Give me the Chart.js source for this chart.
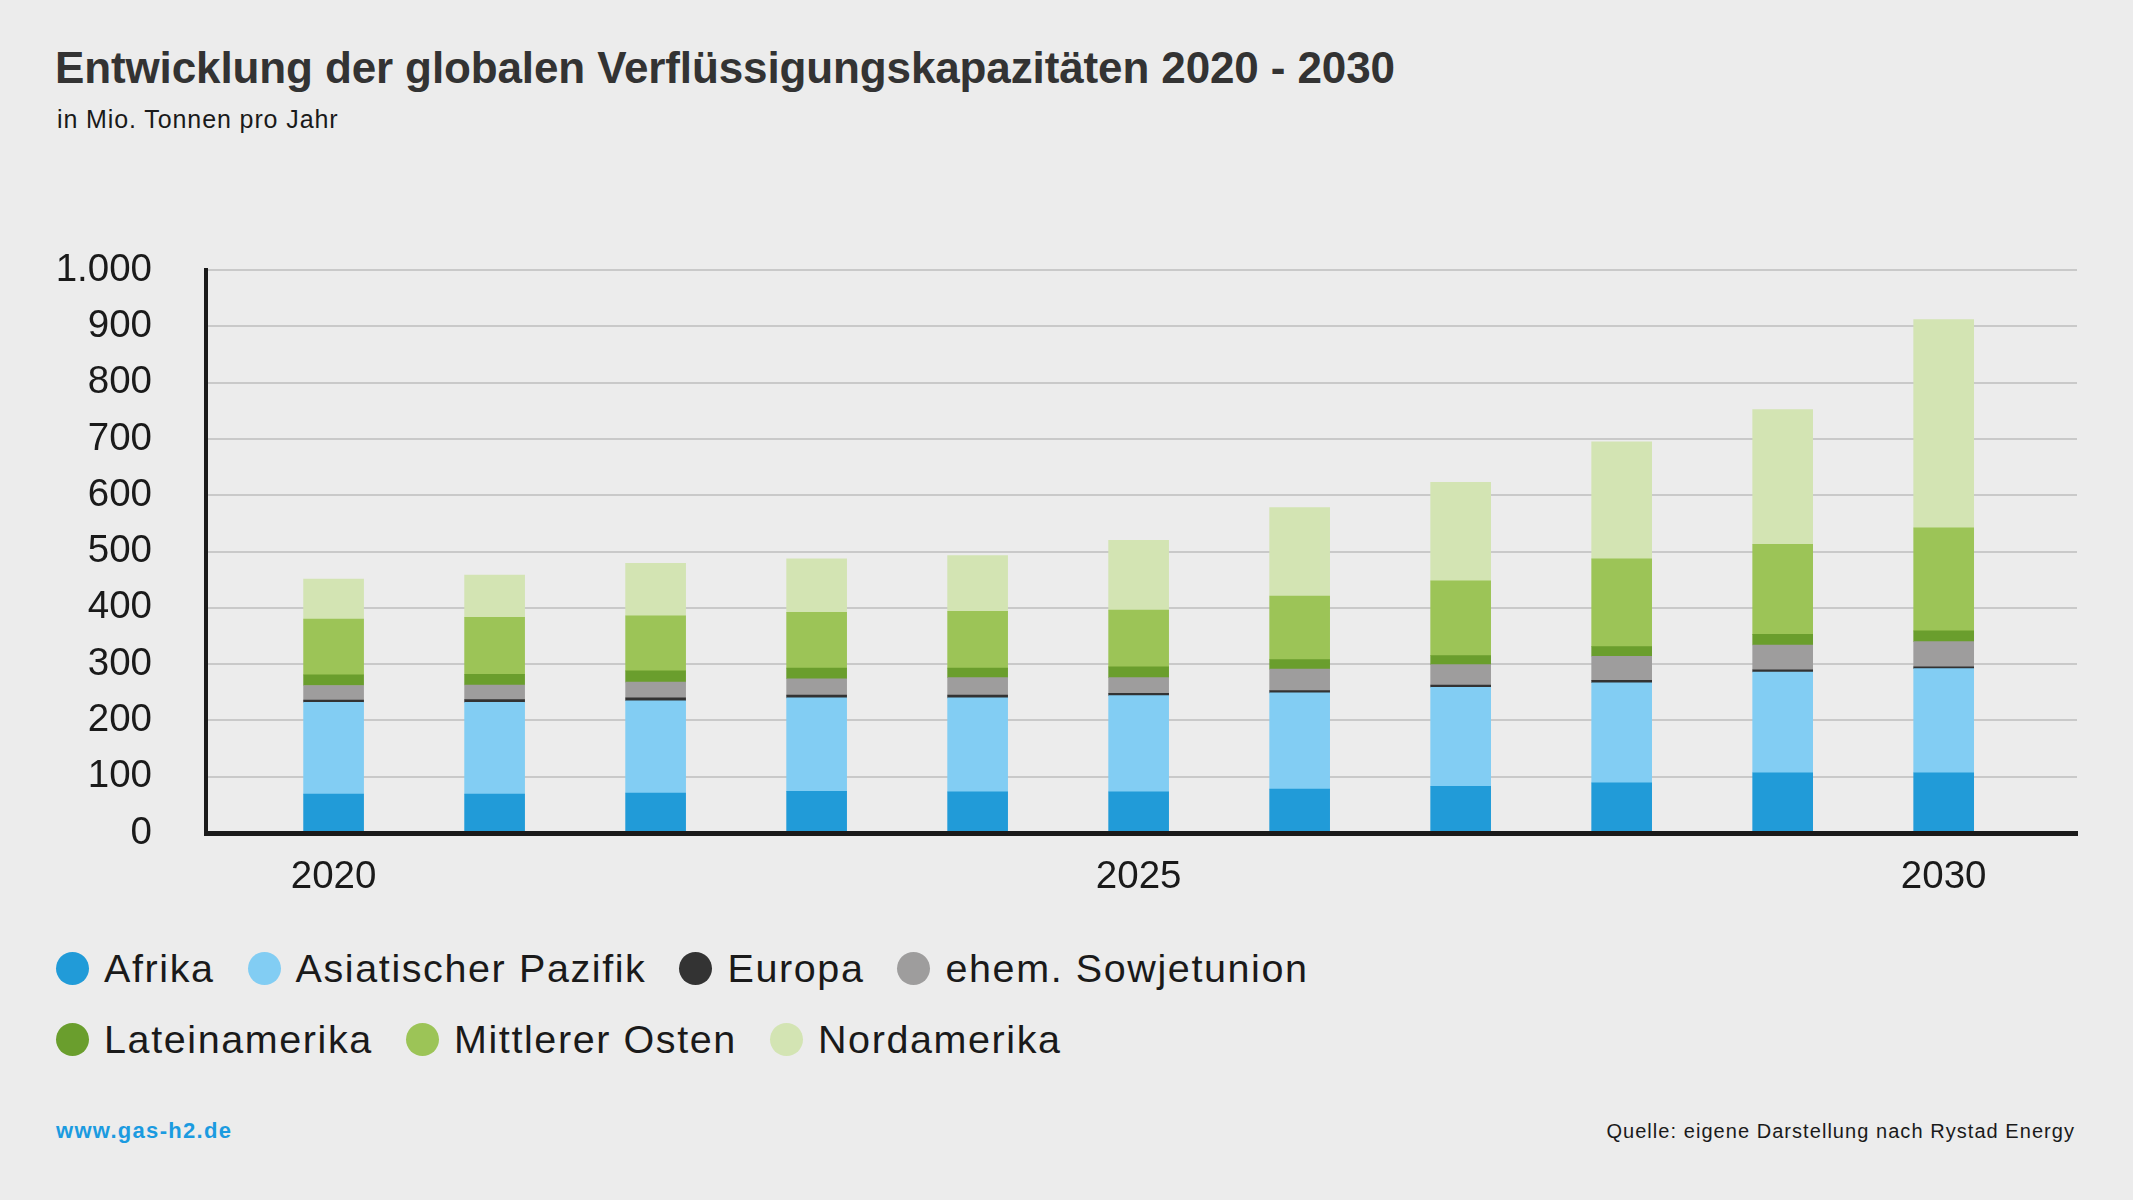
<!DOCTYPE html>
<html lang="de">
<head>
<meta charset="utf-8">
<title>Entwicklung der globalen Verflüssigungskapazitäten 2020 - 2030</title>
<script src="https://cdn.jsdelivr.net/npm/chart.js@4.4.1/dist/chart.umd.min.js"></script>
<style>
  html, body { margin: 0; padding: 0; background: #ececec; }
  body { width: 2133px; height: 1200px; position: relative; overflow: hidden; font-family: "Liberation Sans", Arial, sans-serif; color: #1a1a1a; }
  .title { position: absolute; left: 55px; top: 46px; font-size: 44px; line-height: 1; font-weight: bold; color: #333; letter-spacing: -0.12px; white-space: nowrap; }
  .subtitle { position: absolute; left: 57px; top: 107px; font-size: 25px; line-height: 1; letter-spacing: 0.9px; color: #1a1a1a; white-space: nowrap; }
  #wrap { position: absolute; left: 0; top: 193px; width: 2133px; height: 727px; }
  .legend { position: absolute; left: 56px; top: 948px; }
  .legend .row { display: flex; align-items: center; height: 40px; margin-bottom: 31px; }
  .legend .item { display: flex; align-items: center; margin-right: 33px; }
  .legend .dot { width: 33px; height: 33px; border-radius: 50%; margin-right: 15px; }
  .legend .label { font-size: 39.5px; line-height: 40px; letter-spacing: 1.6px; white-space: nowrap; color: #1a1a1a; }
  .url { position: absolute; left: 56px; top: 1120px; font-size: 22px; line-height: 1; font-weight: bold; color: #1b9be0; letter-spacing: 1.3px; }
  .source { position: absolute; right: 58px; top: 1121px; font-size: 20px; line-height: 1; color: #1a1a1a; letter-spacing: 1.05px; }
</style>
</head>
<body>
<div class="title">Entwicklung der globalen Verflüssigungskapazitäten 2020 - 2030</div>
<div class="subtitle">in Mio. Tonnen pro Jahr</div>
<div id="wrap"><canvas id="myChart"></canvas></div>
<div class="legend" id="legend"></div>
<div class="url">www.gas-h2.de</div>
<div class="source">Quelle: eigene Darstellung nach Rystad Energy</div>
<script>
// Jahre (Kategorien) und Achsenbeschriftungen
const years = [2020, 2021, 2022, 2023, 2024, 2025, 2026, 2027, 2028, 2029, 2030];
const xTickYears = [2020, 2025, 2030];

// Kapazitäten je Region, Mio. t pro Jahr
const afrika = [69, 69, 71, 74, 73, 73, 78, 83, 89, 107, 107];
const asiatischerPazifik = [163, 163, 164, 166, 167, 171, 171, 176, 178, 179, 185];
const europa = [4, 5, 5, 5, 5, 4, 4, 4, 4, 4, 3];
const sowjetunion = [26, 26, 28, 29, 31, 28, 38, 36, 43, 44, 45];
const lateinamerika = [19, 19, 20, 19, 17, 19, 17, 16, 17, 19, 19];
const mittlererOsten = [99, 101, 98, 99, 101, 101, 113, 133, 156, 160, 183];
const nordamerika = [71, 75, 93, 95, 99, 124, 157, 175, 208, 239, 370];

const seriesNames = ['Afrika', 'Asiatischer Pazifik', 'Europa', 'ehem. Sowjetunion', 'Lateinamerika', 'Mittlerer Osten', 'Nordamerika'];
const seriesValues = [afrika, asiatischerPazifik, europa, sowjetunion, lateinamerika, mittlererOsten, nordamerika];
const seriesColors = ['#219bd8', '#82cdf3', '#333333', '#9e9d9d', '#6a9e2d', '#9cc457', '#d3e4b3'];

const datasets = seriesNames.map((name, i) => ({
    label: name,
    data: years.map((y, j) => ({ x: y, y: seriesValues[i][j] })),
    backgroundColor: seriesColors[i],
    borderWidth: 0,
    barThickness: 60
}));

function formatDe(v) {
    return String(v).replace(/\B(?=(\d{3})+(?!\d))/g, '.');
}

const tickFont = { family: '"Liberation Sans", Arial, sans-serif', size: 38.5 };

const ctx = document.getElementById('myChart').getContext('2d');
const myChart = new Chart(ctx, {
    type: 'bar',
    data: { datasets: datasets },
    options: {
        responsive: true,
        maintainAspectRatio: false,
        animation: false,
        layout: { padding: { top: 0, right: 56, left: 0, bottom: 0 } },
        plugins: {
            legend: { display: false },
            tooltip: { enabled: false }
        },
        scales: {
            x: {
                type: 'linear',
                stacked: true,
                offset: false,
                min: 2019.2075,
                max: 2030.828,
                afterBuildTicks: (scale) => { scale.ticks = xTickYears.map(v => ({ value: v })); },
                afterFit: (scale) => { scale.height = 87; },
                grid: { display: false, offset: false, drawTicks: false },
                border: { display: true, color: '#1a1a1a', width: 5, z: 1 },
                ticks: {
                    padding: 21,
                    color: '#1a1a1a',
                    font: tickFont,
                    maxRotation: 0,
                    autoSkip: false,
                    callback: (v) => String(v)
                }
            },
            y: {
                stacked: true,
                min: 0,
                max: 1000,
                afterFit: (scale) => { scale.width = 206; },
                grid: { color: '#c9c9c9', lineWidth: 2, drawTicks: false },
                border: { display: true, color: '#1a1a1a', width: 4, z: 1 },
                ticks: {
                    stepSize: 100,
                    padding: 54,
                    color: '#1a1a1a',
                    font: tickFont,
                    callback: (v) => formatDe(v)
                }
            }
        }
    }
});

// Legende in zwei Zeilen wie im Original
const legendRows = [[0, 1, 2, 3], [4, 5, 6]];
const legendEl = document.getElementById('legend');
for (const row of legendRows) {
    const rowEl = document.createElement('div');
    rowEl.className = 'row';
    for (const i of row) {
        const item = document.createElement('div');
        item.className = 'item';
        const dot = document.createElement('span');
        dot.className = 'dot';
        dot.style.background = seriesColors[i];
        const label = document.createElement('span');
        label.className = 'label';
        label.textContent = seriesNames[i];
        item.appendChild(dot);
        item.appendChild(label);
        rowEl.appendChild(item);
    }
    legendEl.appendChild(rowEl);
}
</script>
</body>
</html>
